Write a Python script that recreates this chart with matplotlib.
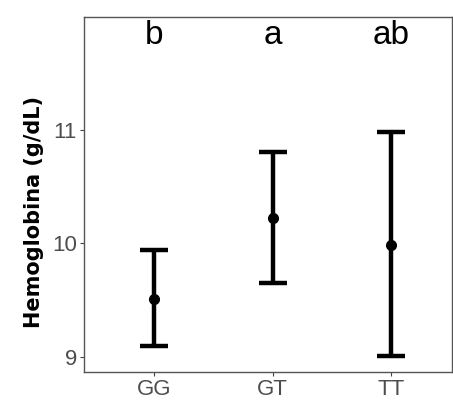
import matplotlib
matplotlib.use("Agg")
import matplotlib.pyplot as plt

genotypes = ["GG", "GT", "TT"]
means = [9.51, 10.22, 9.99]
lower = [9.10, 9.65, 9.01]
upper = [9.94, 10.80, 10.975]
letters = ["b", "a", "ab"]
yticks = [9, 10, 11]

plt.rcParams['font.family'] = ['Liberation Sans', 'DejaVu Sans']

W, H = 453, 403
fig = plt.figure(figsize=(W / 100, H / 100), dpi=100)
ax = fig.add_axes([0.1854, 0.0769, 0.8125, 0.8811])

x = list(range(1, len(genotypes) + 1))
yerr = [[m - l for m, l in zip(means, lower)], [u - m for m, u in zip(means, upper)]]
ax.errorbar(x, means, yerr=yerr, fmt='o', color='black', ecolor='black',
            elinewidth=3.2, capsize=10, capthick=3.2, markersize=7)

for xi, lab in zip(x, letters):
    ax.text(xi, 11.83, lab, ha='center', va='center', fontsize=24, color='black')

ax.set_xlim(0.409, 3.515)
ax.set_ylim(8.87, 11.99)
ax.set_xticks(x)
ax.set_xticklabels(genotypes)
ax.set_yticks(yticks)
ax.tick_params(axis='both', colors='#444444', labelsize=16, length=3, width=0.8, pad=2)
for lab in ax.get_xticklabels() + ax.get_yticklabels():
    lab.set_color('#4d4d4d')
fig.text(34 / W, 1 - 212 / H, "Hemoglobina (g/dL)", rotation=90, ha='center', va='center',
         fontsize=15, fontweight='bold', family=['DejaVu Sans'], color='black')
for s in ax.spines.values():
    s.set_color('#555555')
    s.set_linewidth(1.0)

fig.savefig("out.png", dpi=100)
